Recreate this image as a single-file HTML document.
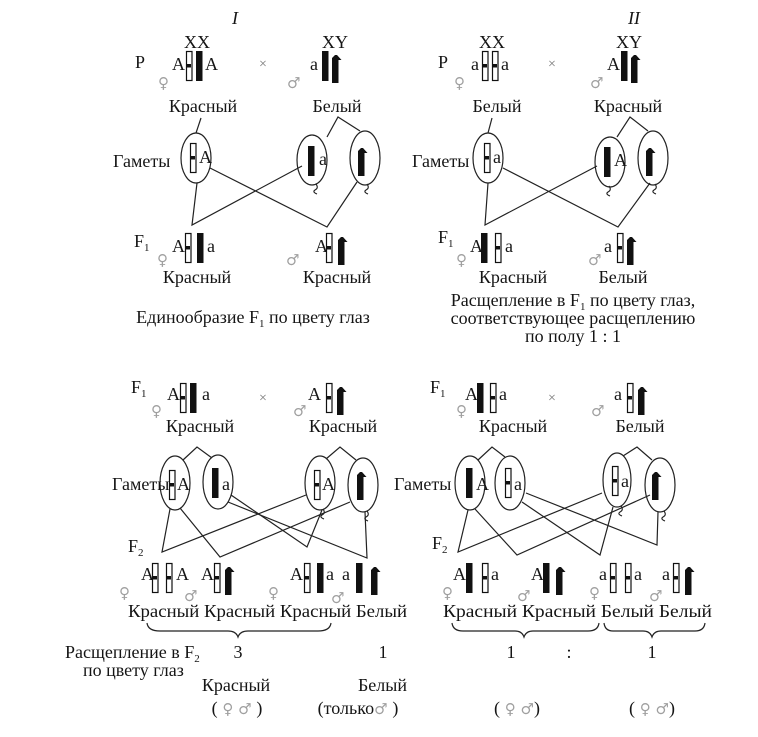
<!DOCTYPE html>
<html><head><meta charset="utf-8"><style>
html,body{margin:0;padding:0;background:#fff}
svg{display:block}
text{font-family:"Liberation Serif",serif;font-size:18px;fill:#151515}
.s{font-family:"DejaVu Sans",sans-serif;font-size:15px;fill:#a0a0a0}
.sub{font-size:11px}
</style></head><body>
<svg width="758" height="737" viewBox="0 0 758 737" xmlns="http://www.w3.org/2000/svg">
<defs>
<g id="w"><rect x="0.5" y="0.5" width="5.5" height="29" fill="#fff" stroke="#111" stroke-width="1.2"/><rect x="0" y="13" width="5" height="3.5" fill="#111"/></g>
<rect id="b" x="0" y="0" width="6.5" height="30" fill="#111"/>
<path id="y" d="M0,30 V5 L3,2 H5 L9.5,7 H6.5 V30 Z" fill="#111"/>
<path id="q" d="M1,0 q3,4 -1,6 q-3,2 2,4" fill="none" stroke="#222" stroke-width="1.1"/>
</defs>
<g stroke="#222" stroke-width="1.2" fill="none">
<ellipse cx="196" cy="158" rx="15" ry="25"/>
<ellipse cx="312" cy="160" rx="15" ry="25"/>
<ellipse cx="365" cy="158" rx="15" ry="27"/>
<path d="M201,118 L196,133"/>
<path d="M327,137 L338,117 L360,131"/>
<path d="M197,183 L192,225 L302,166"/>
<path d="M210,168 L327,227 L357,182"/>
<ellipse cx="488" cy="158" rx="15" ry="25"/>
<ellipse cx="610" cy="162" rx="15" ry="25"/>
<ellipse cx="653" cy="158" rx="15" ry="27"/>
<path d="M492,118 L488,133"/>
<path d="M617,137 L630,117 L648,131"/>
<path d="M488,183 L485,225 L597,166"/>
<path d="M503,168 L618,227 L650,183"/>
<ellipse cx="175" cy="483" rx="15" ry="27"/>
<ellipse cx="218" cy="482" rx="15" ry="27"/>
<ellipse cx="320" cy="483" rx="15" ry="27"/>
<ellipse cx="363" cy="485" rx="15" ry="27"/>
<path d="M183,460 L197,447 L212,458"/>
<path d="M326,459 L340,447 L356,460"/>
<path d="M170,509 L162,552 L306,495"/>
<path d="M180,508 L220,557 L350,502"/>
<path d="M231,495 L307,547 L322,510"/>
<path d="M228,502 L367,558 L365,512"/>
<ellipse cx="470" cy="483" rx="15" ry="27"/>
<ellipse cx="510" cy="483" rx="15" ry="27"/>
<ellipse cx="617" cy="480" rx="14" ry="27"/>
<ellipse cx="660" cy="485" rx="15" ry="27"/>
<path d="M478,460 L492,447 L505,457"/>
<path d="M623,456 L637,447 L652,460"/>
<path d="M468,510 L458,552 L602,493"/>
<path d="M475,509 L517,555 L650,495"/>
<path d="M522,502 L600,555 L613,507"/>
<path d="M526,493 L657,545 L658,512"/>
<path d="M147,623 Q148,631 160,631 L228,631 Q236,631 238,637 Q240,631 248,631 L318,631 Q330,631 331,623"/>
<path d="M452,623 Q453,631 463,631 L515,631 Q522,631 524,637 Q526,631 533,631 L588,631 Q598,631 599,623"/>
<path d="M604,623 Q605,631 613,631 L643,631 Q650,631 652,637 Q654,631 661,631 L695,631 Q704,631 705,623"/>
</g>
<use href="#q" x="315" y="184"/><use href="#q" x="366" y="184"/>
<use href="#q" x="608" y="186"/><use href="#q" x="654" y="184"/>
<use href="#q" x="322" y="509"/><use href="#q" x="366" y="511"/>
<use href="#q" x="620" y="506"/><use href="#q" x="663" y="511"/>

<text x="232" y="24" font-style="italic">I</text>
<text x="197" y="48" text-anchor="middle">XX</text>
<text x="335" y="48" text-anchor="middle">XY</text>
<text x="135" y="68">P</text>
<text class="s" x="158" y="88">♀</text>
<text x="172" y="70">A</text>
<use href="#w" x="186" y="51"/><use href="#b" x="196" y="51"/>
<text x="205" y="70">A</text>
<text x="259" y="68" style="font-size:14px;fill:#777">×</text>
<text class="s" x="287" y="88">♂</text>
<text x="310" y="70">a</text>
<use href="#b" x="322" y="51"/><use href="#y" x="332" y="53"/>
<text x="203" y="112" text-anchor="middle">Красный</text>
<text x="337" y="112" text-anchor="middle">Белый</text>
<text x="113" y="167">Гаметы</text>
<use href="#w" x="190" y="143"/><text x="199" y="163">A</text>
<use href="#b" x="308" y="146"/><text x="319" y="165">a</text>
<use href="#y" x="358" y="146"/>
<text x="134" y="247">F<tspan class="sub" dy="4">1</tspan></text>
<text class="s" x="157" y="265">♀</text>
<text x="172" y="252">A</text>
<use href="#w" x="185" y="233"/><use href="#b" x="197" y="233"/>
<text x="207" y="252">a</text>
<text class="s" x="286" y="265">♂</text>
<text x="315" y="252">A</text>
<use href="#w" x="326" y="233"/><use href="#y" x="338" y="235"/>
<text x="197" y="283" text-anchor="middle">Красный</text>
<text x="337" y="283" text-anchor="middle">Красный</text>
<text x="253" y="323" text-anchor="middle">Единообразие F<tspan class="sub" dy="4">1</tspan><tspan dy="-4"> по цвету глаз</tspan></text>

<text x="628" y="24" font-style="italic">II</text>
<text x="492" y="48" text-anchor="middle">XX</text>
<text x="629" y="48" text-anchor="middle">XY</text>
<text x="438" y="68">P</text>
<text class="s" x="454" y="88">♀</text>
<text x="471" y="70">a</text>
<use href="#w" x="482" y="51"/><use href="#w" x="492" y="51"/>
<text x="501" y="70">a</text>
<text x="548" y="68" style="font-size:14px;fill:#777">×</text>
<text class="s" x="590" y="88">♂</text>
<text x="607" y="70">A</text>
<use href="#b" x="621" y="51"/><use href="#y" x="631" y="53"/>
<text x="497" y="112" text-anchor="middle">Белый</text>
<text x="628" y="112" text-anchor="middle">Красный</text>
<text x="412" y="167">Гаметы</text>
<use href="#w" x="484" y="143"/><text x="493" y="163">a</text>
<use href="#b" x="604" y="147"/><text x="614" y="166">A</text>
<use href="#y" x="646" y="146"/>
<text x="438" y="243">F<tspan class="sub" dy="4">1</tspan></text>
<text class="s" x="456" y="265">♀</text>
<text x="470" y="252">A</text>
<use href="#b" x="481" y="233"/><use href="#w" x="495" y="233"/>
<text x="505" y="252">a</text>
<text class="s" x="588" y="265">♂</text>
<text x="604" y="252">a</text>
<use href="#w" x="617" y="233"/><use href="#y" x="627" y="235"/>
<text x="513" y="283" text-anchor="middle">Красный</text>
<text x="623" y="283" text-anchor="middle">Белый</text>
<text x="573" y="306" text-anchor="middle">Расщепление в F<tspan class="sub" dy="4">1</tspan><tspan dy="-4"> по цвету глаз,</tspan></text>
<text x="573" y="324" text-anchor="middle">соответствующее расщеплению</text>
<text x="573" y="342" text-anchor="middle">по полу 1 : 1</text>

<text x="131" y="393">F<tspan class="sub" dy="4">1</tspan></text>
<text class="s" x="151" y="416">♀</text>
<text x="167" y="400">A</text>
<use href="#w" x="180" y="383"/><use href="#b" x="190" y="383"/>
<text x="202" y="400">a</text>
<text x="259" y="402" style="font-size:14px;fill:#777">×</text>
<text class="s" x="293" y="416">♂</text>
<text x="308" y="400">A</text>
<use href="#w" x="326" y="383"/><use href="#y" x="337" y="385"/>
<text x="200" y="432" text-anchor="middle">Красный</text>
<text x="343" y="432" text-anchor="middle">Красный</text>
<text x="112" y="490">Гаметы</text>
<use href="#w" x="169" y="470"/><text x="177" y="490">A</text>
<use href="#b" x="212" y="468"/><text x="222" y="490">a</text>
<use href="#w" x="314" y="470"/><text x="322" y="490">A</text>
<use href="#y" x="357" y="470"/>
<text x="128" y="552">F<tspan class="sub" dy="4">2</tspan></text>
<text class="s" x="119" y="598">♀</text>
<text x="141" y="580">A</text>
<use href="#w" x="152" y="563"/><use href="#w" x="166" y="563"/>
<text x="176" y="580">A</text>
<text class="s" x="184" y="601">♂</text>
<text x="201" y="580">A</text>
<use href="#w" x="214" y="563"/><use href="#y" x="225" y="565"/>
<text class="s" x="268" y="598">♀</text>
<text x="290" y="580">A</text>
<use href="#w" x="304" y="563"/><use href="#b" x="317" y="563"/>
<text x="326" y="580">a</text>
<text class="s" x="331" y="603">♂</text>
<text x="342" y="580">a</text>
<use href="#b" x="356" y="563"/><use href="#y" x="371" y="565"/>
<text x="128" y="617" textLength="279" lengthAdjust="spacingAndGlyphs">Красный Красный Красный Белый</text>

<text x="430" y="393">F<tspan class="sub" dy="4">1</tspan></text>
<text class="s" x="456" y="416">♀</text>
<text x="465" y="400">A</text>
<use href="#b" x="477" y="383"/><use href="#w" x="490" y="383"/>
<text x="499" y="400">a</text>
<text x="548" y="402" style="font-size:14px;fill:#777">×</text>
<text class="s" x="591" y="416">♂</text>
<text x="614" y="400">a</text>
<use href="#w" x="627" y="383"/><use href="#y" x="638" y="385"/>
<text x="513" y="432" text-anchor="middle">Красный</text>
<text x="640" y="432" text-anchor="middle">Белый</text>
<text x="394" y="490">Гаметы</text>
<use href="#b" x="466" y="468"/><text x="476" y="490">A</text>
<use href="#w" x="505" y="468"/><text x="514" y="490">a</text>
<use href="#w" x="612" y="466"/><text x="621" y="487">a</text>
<use href="#y" x="652" y="470"/>
<text x="432" y="549">F<tspan class="sub" dy="4">2</tspan></text>
<text class="s" x="442" y="598">♀</text>
<text x="453" y="580">A</text>
<use href="#b" x="466" y="563"/><use href="#w" x="482" y="563"/>
<text x="491" y="580">a</text>
<text class="s" x="517" y="601">♂</text>
<text x="531" y="580">A</text>
<use href="#b" x="543" y="563"/><use href="#y" x="556" y="565"/>
<text class="s" x="589" y="598">♀</text>
<text x="599" y="580">a</text>
<use href="#w" x="610" y="563"/><use href="#w" x="625" y="563"/>
<text x="634" y="580">a</text>
<text class="s" x="649" y="601">♂</text>
<text x="662" y="580">a</text>
<use href="#w" x="673" y="563"/><use href="#y" x="685" y="565"/>
<text x="443" y="617" textLength="269" lengthAdjust="spacingAndGlyphs">Красный Красный Белый Белый</text>

<text x="65" y="658">Расщепление в F<tspan class="sub" dy="4">2</tspan></text>
<text x="83" y="676">по цвету глаз</text>
<text x="238" y="658" text-anchor="middle">3</text>
<text x="383" y="658" text-anchor="middle">1</text>
<text x="511" y="658" text-anchor="middle">1</text>
<text x="569" y="658" text-anchor="middle">:</text>
<text x="652" y="658" text-anchor="middle">1</text>
<text x="236" y="691" text-anchor="middle">Красный</text>
<text x="407" y="691" text-anchor="end">Белый</text>
<text x="237" y="714" text-anchor="middle">(<tspan class="s"> ♀ ♂ </tspan>)</text>
<text x="358" y="714" text-anchor="middle">(только<tspan class="s">♂ </tspan>)</text>
<text x="517" y="714" text-anchor="middle">(<tspan class="s"> ♀ ♂</tspan>)</text>
<text x="652" y="714" text-anchor="middle">(<tspan class="s"> ♀ ♂</tspan>)</text>
</svg>
</body></html>
